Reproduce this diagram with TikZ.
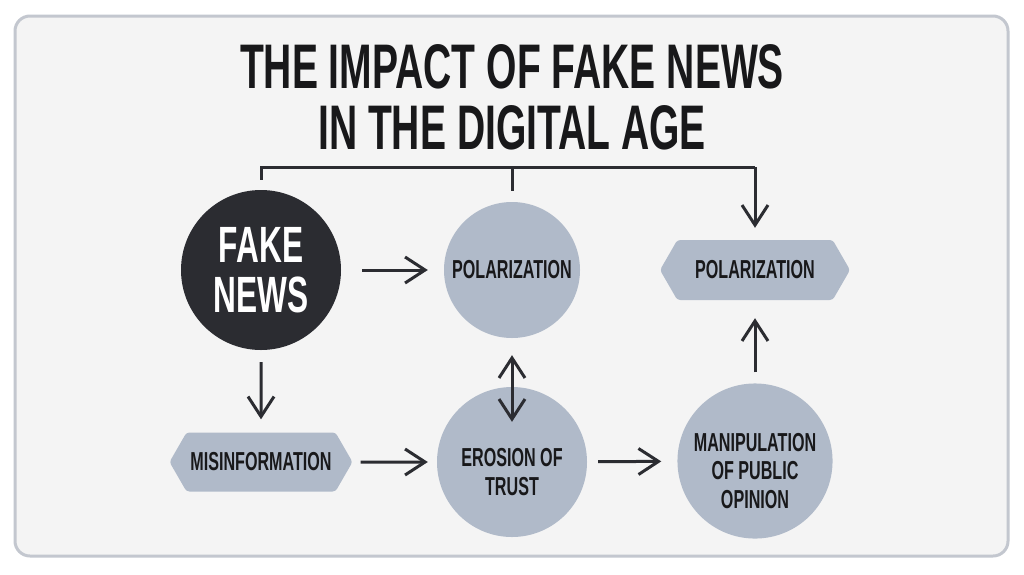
\documentclass[tikz,border=0pt]{standalone}
\usepackage{fontspec}
\usepackage{xcolor}
\usepackage{tikz}
\usetikzlibrary{arrows.meta}
\usetikzlibrary{shapes,shapes.symbols,positioning}
\newfontfamily\diagfont{Liberation Sans}[FakeStretch=0.62]
\newcommand{\toppad}{\rule{0pt}{38pt}}
\definecolor{inkc}{HTML}{2B2C31}
\definecolor{bubblec}{HTML}{B0BAC9}
\definecolor{framec}{HTML}{C3C7CF}
\definecolor{paperc}{HTML}{F4F4F4}
\definecolor{textc}{HTML}{18181A}
\tikzset{
    bubble/.style={circle, fill=bubblec, inner sep=0pt, text=textc,
        align=center, font=\diagfont\bfseries\fontsize{26}{28.5}\selectfont},
    hexbox/.style={signal, signal to=west and east, signal pointer angle=120,
        fill=bubblec, inner sep=0pt, minimum width=190pt, minimum height=60pt,
        rounded corners=3pt, text=textc,
        font=\diagfont\bfseries\fontsize{26}{28}\selectfont},
    conn/.style={line width=3pt, draw=inkc},
    arr/.style={conn, -{Straight Barb[length=20pt, width=26pt]}},
    darr/.style={conn, {Straight Barb[length=20pt, width=26pt]}-{Straight Barb[length=20pt, width=26pt]}},
}

\begin{document}
\begin{tikzpicture}[x=1pt, y=-1pt]
        \useasboundingbox (0,0) rectangle (1024,574);
        \fill[white] (0,0) rectangle (1024,574);

        % frame
        \draw[
            line width=3pt,
            rounded corners=15pt,
            draw=framec,
            fill=paperc,
        ] (15,16) rectangle (1008,556);

        % title
        \node[
            text=textc,
            align=center,
            font=\diagfont\bfseries\fontsize{63}{61}\selectfont,
        ] (title) at (512,97) {THE IMPACT OF FAKE NEWS\\IN THE DIGITAL AGE};

        % top row
        \node[
            circle,
            fill=inkc,
            minimum size=160pt,
            inner sep=0pt,
            text=white,
            align=center,
            font=\diagfont\bfseries\fontsize{51}{50}\selectfont,
        ] (fake) at (261,270) {FAKE\\NEWS};

        \node[bubble, minimum size=136pt] (polC) at (512,270) {POLARIZATION};

        \node[hexbox] (polH) at (755,270) {POLARIZATION};

        % bottom row
        \node[hexbox, minimum width=183pt, minimum height=59pt] (misinfo) at (261,462) {MISINFORMATION};

        \node[bubble, minimum size=150pt] (erosion) at (512,462) {\toppad EROSION OF\\TRUST};

        \node[bubble, minimum size=147pt] (manip) at (755,461) {\toppad MANIPULATION\\OF PUBLIC\\OPINION};

        % bus line above the row
        \coordinate (bus) at (0,167);
        \draw[conn] ([yshift=10pt]fake.north) -- (fake.north |- bus) -- (polH.north |- bus);
        \draw[arr] (polH.north |- bus) -- ([yshift=12pt]polH.north);
        \draw[conn] ([yshift=11pt]polC.north) -- (polC.north |- bus);

        % arrows
        \draw[arr, shorten <=21pt, shorten >=16pt] (fake) -- (polC);
        \draw[arr, shorten <=12pt, shorten >=13pt] (fake) -- (misinfo);
        \draw[arr, shorten <=8pt, shorten >=9pt] (misinfo) -- (erosion);
        \draw[arr, shorten <=11pt, shorten >=16pt] (erosion) -- (manip);
        \draw[arr, shorten <=11pt, shorten >=18pt] (manip) -- (polH);
        \draw[darr, shorten <=17pt, shorten >=-35pt] (polC) -- (erosion);
    \end{tikzpicture}
\end{document}
